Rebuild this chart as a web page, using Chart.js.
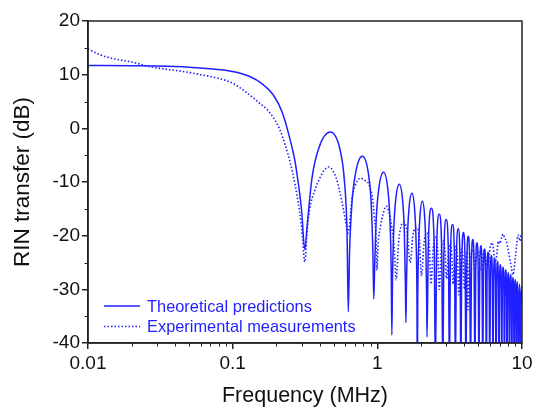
<!DOCTYPE html>
<html><head><meta charset="utf-8">
<script src="https://cdn.jsdelivr.net/npm/chart.js@4.4.1/dist/chart.umd.min.js"></script>
<style>html,body{margin:0;padding:0;background:#fff;}#wrap{width:533px;height:409px;}</style>
</head><body><div id="wrap"><canvas id="c" width="533" height="409"></canvas></div>
<script>
// ---- data ----
const theoryFreq = [
0.01,0.02,0.03,0.05,0.07,0.1,0.13,0.16,0.19,0.22,0.25,0.27,0.285,0.3,0.315,
0.3276,0.3528,0.3938,0.4725,0.5513,0.5922,0.6174,0.63,
0.6426,0.6678,0.7088,0.7875,0.8663,0.9072,0.9324,0.945,
0.9576,0.9828,1.0238,1.1025,1.1813,1.2222,1.2474,1.26,
1.2726,1.2978,1.3388,1.4175,1.4963,1.5372,1.5624,1.575,
1.5876,1.6128,1.6538,1.7325,1.8113,1.8522,1.8774,1.89,
1.9026,1.9278,1.9688,2.0475,2.1263,2.1672,2.1924,2.205,
2.2523,2.3625,2.4728,2.52,
2.5673,2.6775,2.7878,2.835,
2.8823,2.9925,3.1028,3.15,
3.1973,3.3075,3.4178,3.465,
3.5123,3.6225,3.7328,3.78,
3.8273,3.9375,4.0478,4.095,
4.158,4.2525,4.347,4.41,
4.473,4.5675,4.662,4.725,
4.788,4.8825,4.977,5.04,
5.103,5.1975,5.292,5.355,
5.418,5.5125,5.607,5.67,
5.733,5.8275,5.922,5.985,
6.048,6.1425,6.237,6.3,
6.363,6.4575,6.552,6.615,
6.678,6.7725,6.867,6.93,
6.993,7.0875,7.182,7.245,
7.308,7.4025,7.497,7.56,
7.623,7.7175,7.812,7.875,
7.938,8.0325,8.127,8.19,
8.253,8.3475,8.442,8.505,
8.568,8.6625,8.757,8.82,
8.883,8.9775,9.072,9.135,
9.198,9.2925,9.387,9.45,
9.513,9.6075,9.702,9.765,
9.828,9.9225,10.0
];
const theoryDb = [
11.7,11.65,11.6,11.4,11.1,10.6,9.7,8.3,6.3,3.0,-2.2,-6.2,-10.5,-15.5,-22.6,
-18.0,-9.4,-3.7,-0.7,-3.9,-9.8,-19.5,-34.2,
-23.2,-13.9,-8.2,-5.2,-8.3,-14.1,-23.5,-31.8,
-26.2,-16.9,-11.2,-8.2,-11.3,-17.1,-26.5,-38.5,
-28.4,-19.1,-13.4,-10.4,-13.5,-19.3,-28.6,-36.2,
-30.1,-20.8,-15.1,-12.1,-15.2,-21.0,-30.3,-46,
-31.6,-22.3,-16.6,-13.6,-16.7,-22.5,-31.8,-38.9,
-21.8,-14.9,-21.9,-46,
-22.9,-16.0,-23.0,-46,
-23.9,-17.0,-24.0,-46,
-24.8,-17.9,-24.9,-46,
-25.6,-18.7,-25.7,-46,
-26.3,-19.4,-26.4,-46,
-24.7,-20.1,-24.8,-46,
-25.3,-20.7,-25.4,-46,
-25.9,-21.3,-26.0,-46,
-26.5,-21.9,-26.6,-46,
-27.1,-22.5,-27.2,-46,
-27.7,-23.1,-27.8,-46,
-28.3,-23.7,-28.4,-46,
-28.9,-24.3,-29.0,-46,
-29.4,-24.8,-29.5,-46,
-30.0,-25.4,-30.1,-46,
-30.5,-25.9,-30.6,-46,
-31.0,-26.4,-31.1,-46,
-31.5,-26.9,-31.6,-46,
-31.9,-27.3,-32.0,-46,
-32.4,-27.8,-32.5,-46,
-32.8,-28.2,-32.9,-46,
-33.2,-28.6,-33.3,-46,
-33.6,-29.0,-33.7,-46,
-34.0,-29.4,-32.4
];
const expFreq = [
0.01,0.0121,0.015,0.0204,0.0267,0.035,0.0453,0.06,0.0775,0.09,0.1,0.112,0.124,0.14,0.153,0.17,0.19,0.21,0.23,0.25,0.27,0.29,0.303,0.315,
0.3276,0.34,0.37,0.40,0.43,0.46,0.49,0.52,0.55,0.58,0.605,0.63,
0.645,0.665,0.70,0.74,0.77,0.80,0.84,0.866,0.90,0.924,0.954,0.98,0.995,
1.01,1.05,1.1,1.15,1.2,1.26,1.31,1.35,
1.40,1.45,1.52,1.60,1.69,1.76,1.86,1.95,2.02,2.10,2.19,2.28,2.35,2.43,2.52,2.61,2.68,2.76,2.85,2.94,3.01,
3.10,3.18,3.27,3.34,3.42,3.50,3.58,3.66,3.74,3.83,3.92,4.0,4.08,4.17,4.24,4.32,4.4,4.5,4.6,4.72,4.85,
5.0,5.15,5.3,5.45,5.6,5.8,6.0,6.2,6.35,6.51,6.7,6.85,7.0,7.2,7.4,7.6,7.8,8.0,8.2,8.45,8.67,8.85,9.0,9.2,9.38,9.55,9.7,9.85,10.0
];
const expDb = [
14.8,13.7,13.0,12.3,11.5,11.0,10.6,10.0,9.4,8.9,8.4,7.6,6.7,5.6,4.7,3.7,2.1,0.0,-3.0,-6.4,-10.5,-15.5,-20.0,-24.9,
-19.0,-15.2,-11.5,-9.3,-7.8,-7.2,-7.8,-9.3,-11.8,-14.8,-17.5,-19.5,
-17.5,-13.5,-10.8,-9.5,-9.3,-9.5,-9.9,-10.2,-11.5,-12.8,-16.5,-20.5,-26.4,
-22.0,-18.4,-15.8,-14.5,-15.5,-18.5,-22.5,-28.2,
-21.5,-18.5,-17.5,-19.0,-25.0,-20.0,-18.5,-20.5,-27.5,-21.5,-19.5,-21.5,-29.0,-22.5,-20.3,-22.5,-30.0,-23.0,-21.0,-23.0,-28.0,
-23.5,-21.5,-23.5,-29.0,-24.0,-22.0,-24.0,-31.0,-24.5,-22.5,-24.5,-30.0,-25.0,-23.0,-33.8,-26.0,-24.0,-23.0,-22.5,-27.0,-23.5,
-23.0,-26.5,-25.5,-22.8,-24.0,-26.0,-22.5,-21.3,-22.5,-25.0,-23.5,-21.0,-21.5,-20.5,-19.7,-20.5,-21.0,-22.5,-24.0,-26.0,-27.3,-26.0,-24.0,-21.5,-19.9,-20.5,-21.0,-20.0,-20.0
];
const seriesLabels = ['Theoretical predictions', 'Experimental measurements'];
const xTickValues = [0.01, 0.1, 1, 10];
const xMinorValues = [0.02,0.03,0.04,0.05,0.06,0.07,0.08,0.09,0.2,0.3,0.4,0.5,0.6,0.7,0.8,0.9,2,3,4,5,6,7,8,9];
const yMinorValues = [-35,-25,-15,-5,5,15];

// ---- styling ----
const BLUE = '#1f1fff';
const AXIS = '#222222';
const FONT = 'Liberation Sans, Arial, Helvetica, sans-serif';

const framePlugin = {
  id: 'frame',
  afterDraw(chart) {
    const {ctx, chartArea: a, scales: {x, y}} = chart;
    ctx.save();
    ctx.strokeStyle = AXIS;
    ctx.lineWidth = 1.5;
    ctx.strokeRect(a.left, a.top, a.right - a.left, a.bottom - a.top);
    ctx.lineWidth = 1;
    ctx.beginPath();
    xMinorValues.forEach(v => {
      const px = Math.round(x.getPixelForValue(v)) + 0.5;
      ctx.moveTo(px, a.bottom); ctx.lineTo(px, a.bottom + 3.5);
    });
    yMinorValues.forEach(v => {
      const py = Math.round(y.getPixelForValue(v)) + 0.5;
      ctx.moveTo(a.left, py); ctx.lineTo(a.left - 3.5, py);
    });
    ctx.stroke();
    // legend
    const ds = chart.data.datasets;
    const rows = [a.bottom - 37, a.bottom - 16.5];
    ctx.font = '16.4px ' + FONT;
    ctx.textBaseline = 'middle';
    ds.forEach((d, i) => {
      const yy = rows[i];
      ctx.strokeStyle = d.borderColor;
      ctx.lineWidth = d.borderWidth;
      ctx.setLineDash(d.borderDash || []);
      ctx.beginPath();
      ctx.moveTo(a.left + 16, yy); ctx.lineTo(a.left + 52, yy);
      ctx.stroke();
      ctx.setLineDash([]);
      ctx.fillStyle = BLUE;
      ctx.fillText(d.label, a.left + 59, yy + 1);
    });
    ctx.restore();
  }
};

const toPts = (fs, vs) => fs.map((f, i) => ({x: f, y: vs[i]}));

new Chart(document.getElementById('c'), {
  type: 'line',
  data: {
    datasets: [
      {label: seriesLabels[0], data: toPts(theoryFreq, theoryDb), borderColor: BLUE, borderWidth: 1.5,
       pointRadius: 0, cubicInterpolationMode: 'monotone', fill: false, order: 1},
      {label: seriesLabels[1], data: toPts(expFreq, expDb), borderColor: BLUE, borderWidth: 1.6,
       borderDash: [1.5, 2], pointRadius: 0, cubicInterpolationMode: 'monotone', fill: false, order: 2}
    ]
  },
  options: {
    responsive: false,
    animation: false,
    devicePixelRatio: 1,
    layout: {padding: {top: 21, right: 11, left: 0, bottom: 0}},
    plugins: {legend: {display: false}, tooltip: {enabled: false}},
    scales: {
      x: {
        type: 'logarithmic', min: 0.01, max: 10,
        afterBuildTicks: s => { s.ticks = xTickValues.map(v => ({value: v})); },
        afterFit: s => { s.height = 66; s.paddingLeft = 0; s.paddingRight = 0; },
        ticks: {callback: v => String(v), autoSkip: false, maxRotation: 0, padding: 3,
                color: '#111', font: {family: FONT, size: 19}},
        grid: {drawOnChartArea: false, drawTicks: true, tickLength: 6, color: AXIS, lineWidth: 1.5},
        border: {display: true, color: AXIS, width: 1.5},
        title: {display: true, text: 'Frequency (MHz)', color: '#111',
                font: {family: FONT, size: 21.5}, padding: {top: 0, bottom: 0}}
      },
      y: {
        type: 'linear', min: -40, max: 20,
        afterFit: s => { s.width = 88; s.paddingTop = 0; s.paddingBottom = 0; },
        ticks: {stepSize: 10, padding: 2, color: '#111', font: {family: FONT, size: 19}},
        grid: {drawOnChartArea: false, drawTicks: true, tickLength: 6, color: AXIS, lineWidth: 1.5},
        border: {display: true, color: AXIS, width: 1.5},
        title: {display: true, text: 'RIN transfer (dB)', color: '#111',
                font: {family: FONT, size: 22.5}, padding: {top: 9, bottom: 0}}
      }
    }
  },
  plugins: [framePlugin]
});
</script>
</body></html>
